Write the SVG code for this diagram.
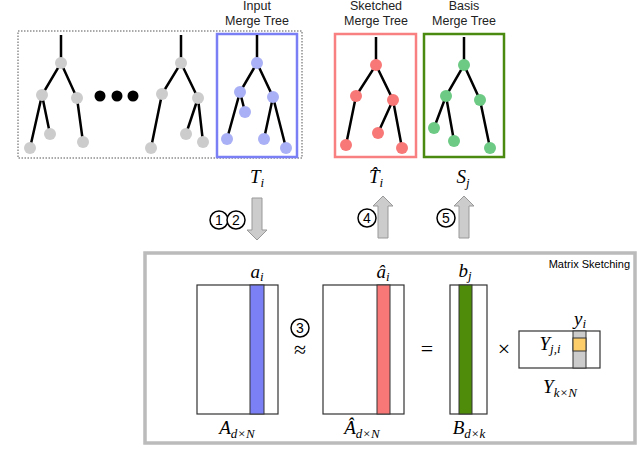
<svg xmlns="http://www.w3.org/2000/svg" width="640" height="474" viewBox="0 0 640 474">
<style>
.e{stroke:#000;stroke-width:2.5;fill:none}
.lab{font-family:"Liberation Sans",Arial,sans-serif;font-size:12.5px;text-anchor:middle;fill:#222}
.m{font-family:"Liberation Serif","Times New Roman",serif;font-style:italic;font-size:19px;text-anchor:middle}
.mr{font-family:"Liberation Serif","Times New Roman",serif;font-size:22px;text-anchor:middle}
.c{fill:#fff;stroke:#000;stroke-width:1.5}
.ct{font-family:"Liberation Sans",Arial,sans-serif;font-size:14px;text-anchor:middle}
.g{fill:#ccc}.b{fill:#aab0f5}.r{fill:#f87878}.gr{fill:#6cca84}
.mat{fill:#fff;stroke:#333;stroke-width:1.2}
.arr{fill:#ccc;stroke:#999;stroke-width:1}
</style>
<rect x="18" y="31" width="284" height="127" fill="none" stroke="#555" stroke-dasharray="1.5,1.5"/>
<g id="tree1">
<path class="e" d="M61 35V63L42 95L30 148M42 95L50 134M61 63L77 98L83 142"/>
<g class="g"><circle cx="61" cy="63" r="6"/><circle cx="42" cy="95" r="6"/><circle cx="77" cy="98" r="6"/><circle cx="30" cy="148" r="6"/><circle cx="50" cy="134" r="6"/><circle cx="83" cy="142" r="6"/></g>
</g>
<g id="dots"><circle cx="100" cy="96" r="5.5"/><circle cx="117" cy="96" r="5.5"/><circle cx="133" cy="96" r="5.5"/></g>
<g id="tree2">
<path class="e" d="M181 35V63L162 94L151 148M181 63L198 98L203 142M198 98L186 134"/>
<g class="g"><circle cx="181" cy="63" r="6"/><circle cx="162" cy="94" r="6"/><circle cx="198" cy="98" r="6"/><circle cx="151" cy="148" r="6"/><circle cx="186" cy="134" r="6"/><circle cx="203" cy="142" r="6"/></g>
</g>
<g id="input">
<rect x="217" y="34" width="80" height="123" fill="none" stroke="#7a7ff5" stroke-width="2.5"/>
<path class="e" d="M257 35V63L240 92L227 139M240 92L245 112M257 63L273 97L264 139M273 97L286 148"/>
<g class="b"><circle cx="257" cy="63" r="6"/><circle cx="240" cy="92" r="6"/><circle cx="273" cy="97" r="6"/><circle cx="245" cy="112" r="6"/><circle cx="227" cy="139" r="6"/><circle cx="264" cy="139" r="6"/><circle cx="286" cy="148" r="6"/></g>
<text class="lab" x="257" y="10">Input</text><text class="lab" x="257" y="25">Merge Tree</text>
<text class="m" x="257" y="183">T<tspan font-size="13" dy="4">i</tspan></text>
</g>
<g id="sketched">
<rect x="335" y="34" width="81" height="123" fill="none" stroke="#f88080" stroke-width="2.5"/>
<path class="e" d="M376 37V65L356 96L346 145M376 65L393 100L402 148M393 100L378 133"/>
<g class="r"><circle cx="376" cy="65" r="6"/><circle cx="356" cy="96" r="6"/><circle cx="393" cy="100" r="6"/><circle cx="346" cy="145" r="6"/><circle cx="378" cy="133" r="6"/><circle cx="402" cy="148" r="6"/></g>
<text class="lab" x="376" y="10">Sketched</text><text class="lab" x="376" y="25">Merge Tree</text>
<text class="m" x="376" y="183">T̂<tspan font-size="13" dy="4">i</tspan></text>
</g>
<g id="basis">
<rect x="424" y="34" width="80" height="123" fill="none" stroke="#4a8a10" stroke-width="2.5"/>
<path class="e" d="M464 37V65L446 96L434 128M446 96L454 141M464 65L480 100L490 148"/>
<g class="gr"><circle cx="464" cy="65" r="6"/><circle cx="446" cy="96" r="6"/><circle cx="480" cy="100" r="6"/><circle cx="434" cy="128" r="6"/><circle cx="454" cy="141" r="6"/><circle cx="490" cy="148" r="6"/></g>
<text class="lab" x="464" y="10">Basis</text><text class="lab" x="464" y="25">Merge Tree</text>
<text class="m" x="463" y="183">S<tspan font-size="13" dy="4">j</tspan></text>
</g>
<g id="connectors">
<path class="arr" d="M252 198H262V230H267L257 240L247 230H252Z"/>
<path class="arr" d="M378 238H388V206H393L383 196L373 206H378Z"/>
<path class="arr" d="M459 238H469V206H474L464 196L454 206H459Z"/>
<circle class="c" cx="219" cy="220" r="9"/><text class="ct" x="219" y="225">1</text>
<circle class="c" cx="236" cy="220" r="9"/><text class="ct" x="236" y="225">2</text>
<circle class="c" cx="367" cy="218" r="9"/><text class="ct" x="367" y="223">4</text>
<circle class="c" cx="446" cy="218" r="9"/><text class="ct" x="446" y="223">5</text>
</g>
<g id="matrix">
<rect x="145" y="253" width="490" height="190" fill="none" stroke="#bbb" stroke-width="3.5"/>
<text x="630" y="268" font-family="Liberation Sans,Arial,sans-serif" font-size="11" text-anchor="end">Matrix Sketching</text>
<rect class="mat" x="197" y="285" width="81" height="129"/><rect x="250" y="285" width="14" height="129" fill="#7b80f5" stroke="#333"/>
<text class="m" x="257" y="278">a<tspan font-size="13" dy="3">i</tspan></text>
<text class="m" x="237" y="434">A<tspan font-size="13" dy="4">d×N</tspan></text>
<circle class="c" cx="300" cy="328" r="9"/><text class="ct" x="300" y="333">3</text>
<text class="mr" x="300" y="357">≈</text>
<rect class="mat" x="323" y="285" width="81" height="129"/><rect x="377" y="285" width="13" height="129" fill="#f87878" stroke="#333"/>
<text class="m" x="383" y="278">â<tspan font-size="13" dy="3">i</tspan></text>
<text class="m" x="362" y="434">Â<tspan font-size="13" dy="4">d×N</tspan></text>
<text class="mr" x="427" y="356">=</text>
<rect class="mat" x="450" y="285" width="37" height="129"/><rect x="459" y="285" width="13" height="129" fill="#4e8c0a" stroke="#333"/>
<text class="m" x="465" y="277">b<tspan font-size="13" dy="3">j</tspan></text>
<text class="m" x="469" y="434">B<tspan font-size="13" dy="4">d×k</tspan></text>
<text class="mr" x="504" y="356" font-size="16">×</text>
<rect class="mat" x="519" y="331" width="81" height="37"/><rect x="573" y="331" width="13" height="37" fill="#ccc" stroke="#333"/><rect x="573" y="338" width="13" height="13" fill="#fdcd6a" stroke="#333"/>
<text class="m" x="580" y="325">y<tspan font-size="13" dy="3">i</tspan></text>
<text class="m" x="550" y="350">Y<tspan font-size="13" dy="3">j,i</tspan></text>
<text class="m" x="560" y="393">Y<tspan font-size="13" dy="4">k×N</tspan></text>
</g>
</svg>
